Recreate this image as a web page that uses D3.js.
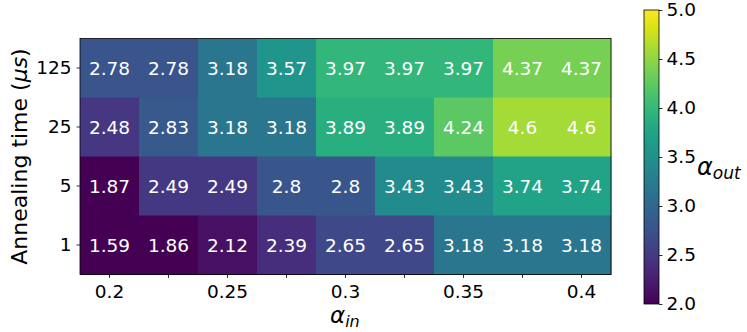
<!DOCTYPE html>
<html>
<head>
<meta charset="utf-8">
<script src="https://cdn.jsdelivr.net/npm/d3@7.9.0/dist/d3.min.js"></script>
<style>
  body { margin: 0; background: #fff; }
  svg { font-family: "DejaVu Sans", sans-serif; }
</style>
</head>
<body>
<svg id="chart" width="747" height="332"></svg>
<script>
// annealing times (rows, top to bottom) and alpha_in columns
const times = ['125', '25', '5', '1'];
const alphaIn = ['0.2', '0.225', '0.25', '0.275', '0.3', '0.325', '0.35', '0.375', '0.4'];
const labeledTicks = ['0.2', '0.25', '0.3', '0.35', '0.4'];

// alpha_out values per row
const row125 = [2.78, 2.78, 3.18, 3.57, 3.97, 3.97, 3.97, 4.37, 4.37];
const row25 = [2.48, 2.83, 3.18, 3.18, 3.89, 3.89, 4.24, 4.6, 4.6];
const row5 = [1.87, 2.49, 2.49, 2.8, 2.8, 3.43, 3.43, 3.74, 3.74];
const row1 = [1.59, 1.86, 2.12, 2.39, 2.65, 2.65, 3.18, 3.18, 3.18];
const rows = [row125, row25, row5, row1];

const cbTicks = [2.0, 2.5, 3.0, 3.5, 4.0, 4.5, 5.0];

const svg = d3.select('#chart');
const plotL = 80, plotR = 611, plotT = 38.5, plotB = 274.5;
const fs = 18.5;

const x = d3.scaleBand().domain(alphaIn).range([plotL, plotR]);
const y = d3.scaleBand().domain(times).range([plotT, plotB]);
const color = d3.scaleSequential(d3.interpolateViridis).domain([2, 5]).clamp(true);

// cells
const cells = [];
rows.forEach((r, i) => r.forEach((v, j) => cells.push({ t: times[i], a: alphaIn[j], v })));

svg.append('g').selectAll('rect')
  .data(cells)
  .join('rect')
  .attr('x', d => x(d.a))
  .attr('y', d => y(d.t))
  .attr('width', x.bandwidth() + 0.5)
  .attr('height', y.bandwidth() + 0.5)
  .attr('fill', d => color(d.v));

svg.append('g').selectAll('text')
  .data(cells)
  .join('text')
  .attr('x', d => x(d.a) + x.bandwidth() / 2)
  .attr('y', d => y(d.t) + y.bandwidth() / 2)
  .attr('text-anchor', 'middle')
  .attr('dominant-baseline', 'central')
  .attr('fill', '#fff')
  .attr('font-size', fs)
  .text(d => d.v);

// frame
svg.append('rect')
  .attr('x', plotL).attr('y', plotT)
  .attr('width', plotR - plotL).attr('height', plotB - plotT)
  .attr('fill', 'none').attr('stroke', '#000').attr('stroke-width', 0.8);

// x axis
const xAxis = d3.axisBottom(x)
  .tickSize(3.5).tickPadding(7)
  .tickFormat(d => labeledTicks.includes(d) ? d : '');
svg.append('g')
  .attr('transform', `translate(0,${plotB})`)
  .call(xAxis)
  .call(g => g.select('.domain').remove())
  .call(g => g.selectAll('line').attr('stroke-width', 0.8))
  .call(g => g.selectAll('text').attr('font-size', fs).attr('font-family', 'DejaVu Sans').attr('fill', '#000'));

// y axis
const yAxis = d3.axisLeft(y).tickSize(3.5).tickPadding(5);
svg.append('g')
  .attr('transform', `translate(${plotL},0)`)
  .call(yAxis)
  .call(g => g.select('.domain').remove())
  .call(g => g.selectAll('line').attr('stroke-width', 0.8))
  .call(g => g.selectAll('text').attr('font-size', fs).attr('font-family', 'DejaVu Sans').attr('fill', '#000'));

// axis labels
svg.append('text')
  .attr('x', 330).attr('y', 323)
  .attr('font-size', 23)
  .html('<tspan font-style="italic">α</tspan><tspan font-size="16" font-style="italic" dy="4">in</tspan>');

svg.append('text')
  .attr('transform', `translate(27,${(plotT + plotB) / 2}) rotate(-90)`)
  .attr('text-anchor', 'middle')
  .attr('font-size', 22)
  .html('Annealing time (<tspan font-style="italic">μs</tspan>)');

// colorbar
const cbX = 644, cbW = 15, cbTop = 10, cbBottom = 304;
const cy = d3.scaleLinear().domain([2, 5]).range([cbBottom, cbTop]);
const defs = svg.append('defs');
const grad = defs.append('linearGradient').attr('id', 'cbgrad')
  .attr('x1', 0).attr('y1', 1).attr('x2', 0).attr('y2', 0);
d3.range(0, 1.0001, 0.05).forEach(t => {
  grad.append('stop').attr('offset', t).attr('stop-color', d3.interpolateViridis(t));
});
svg.append('rect')
  .attr('x', cbX).attr('y', cbTop)
  .attr('width', cbW).attr('height', cbBottom - cbTop)
  .attr('fill', 'url(#cbgrad)')
  .attr('stroke', '#000').attr('stroke-width', 0.8);

svg.append('g')
  .attr('transform', `translate(${cbX + cbW},0)`)
  .call(d3.axisRight(cy).tickValues(cbTicks).tickFormat(d3.format('.1f')).tickSize(3.5).tickPadding(4))
  .call(g => g.select('.domain').remove())
  .call(g => g.selectAll('line').attr('stroke-width', 0.8))
  .call(g => g.selectAll('text').attr('font-size', fs).attr('font-family', 'DejaVu Sans').attr('fill', '#000'));

svg.append('text')
  .attr('x', 697).attr('y', 175)
  .attr('font-size', 24)
  .html('<tspan font-style="italic">α</tspan><tspan font-size="17" font-style="italic" dy="4">out</tspan>');
</script>
</body>
</html>
